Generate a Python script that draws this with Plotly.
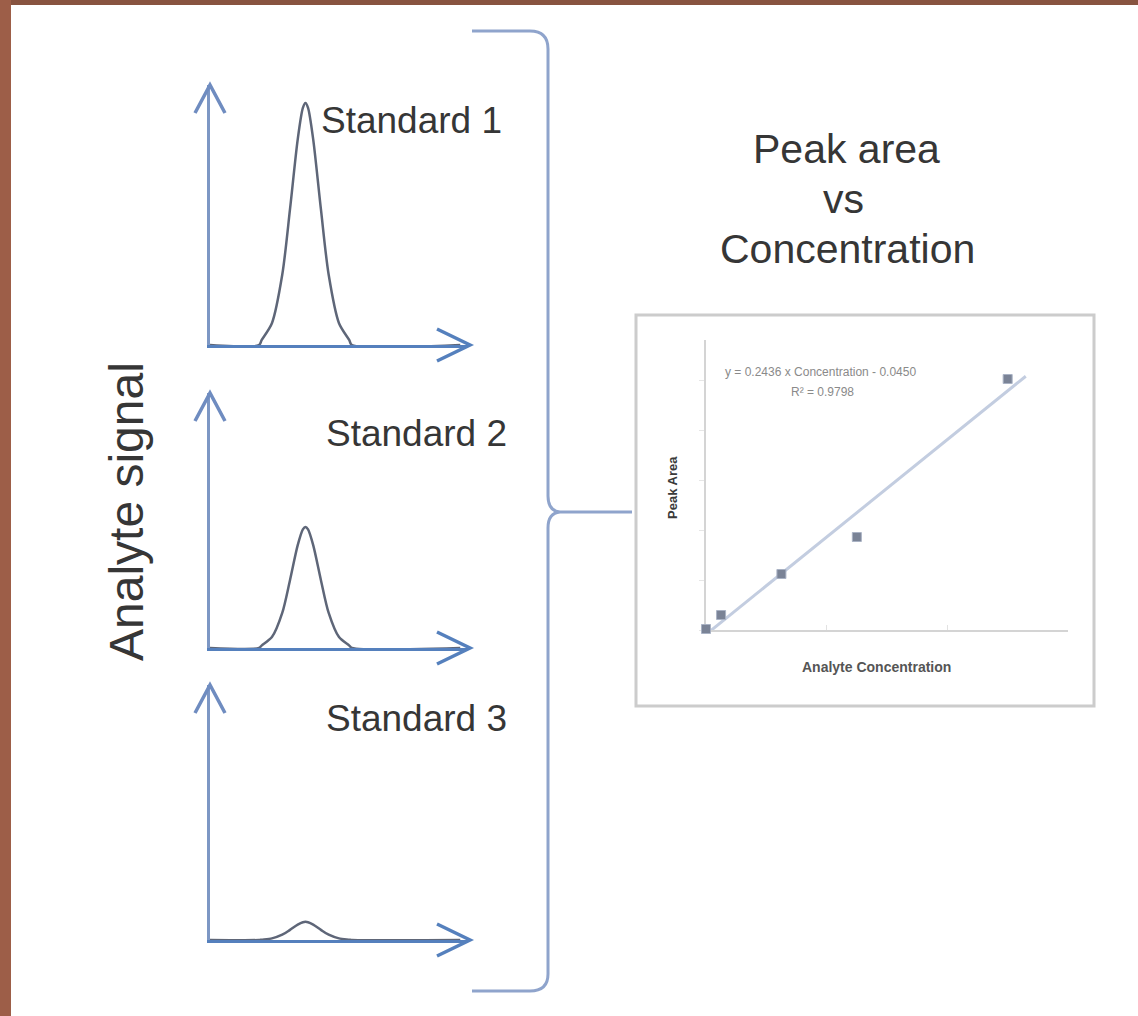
import numpy as np
import plotly.graph_objects as go

W, H = 1138, 1016

# ---------------- data ----------------
standards = ["Standard 1", "Standard 2", "Standard 3"]
peak_heights = [1.0, 0.5, 0.075]          # relative analyte signal of each standard
# shared chromatographic peak profile (retention time, relative signal)
profile_time = [0.0, 1.9, 2.0, 2.4, 2.8, 3.1, 3.4, 3.6, 3.7, 3.8, 4.0, 4.3, 4.6, 5.0, 5.4, 5.5, 9.7]
profile_shape = [0.0, 0.0, 0.02, 0.09, 0.29, 0.56, 0.85, 0.98, 1.0, 0.98, 0.85, 0.56, 0.29, 0.09, 0.02, 0.0, 0.0]

concentration = [0.0, 0.5, 2.5, 5.0, 10.0]
peak_area = [0.01, 0.15, 0.56, 0.93, 2.51]

# ---------------- helpers ----------------
def px(x):
    return x / W

def py(y):
    return 1 - y / H

def pt(x, y):
    return f"{px(x):.5f},{py(y):.5f}"

AXIS_BLUE = "#5580bd"
PEAK_COL = "#5e6678"
TEXT_COL = "#363636"
FONT = "Liberation Sans, Arial, sans-serif"

fig = go.Figure()
shapes = []
annotations = []

# background panel
shapes.append(dict(type="rect", xref="paper", yref="paper", x0=0, x1=px(11), y0=0, y1=1,
                   fillcolor="#9d5e48", line_width=0, layer="below"))
shapes.append(dict(type="rect", xref="paper", yref="paper", x0=px(11), x1=1, y0=py(1016), y1=py(5),
                   fillcolor="white", line_width=0, layer="below"))

# chromatogram panels: (baseline px, top tip px)
panels = [(345, 85), (648, 393), (940, 685)]
label_pos = [(411, 120), (416, 433), (416, 718)]
PX_PER_UNIT = 242.0
X0, X1 = 210, 468

for i, (name, h) in enumerate(zip(standards, peak_heights)):
    base, top = panels[i]
    xa = f"xaxis{i + 1}" if i else "xaxis"
    ya = f"yaxis{i + 1}" if i else "yaxis"
    xr = f"x{i + 1}" if i else "x"
    yr = f"y{i + 1}" if i else "y"
    ymax = (base - top) / PX_PER_UNIT
    fig.add_trace(go.Scatter(
        x=profile_time, y=[v * h for v in profile_shape],
        mode="lines", line=dict(color=PEAK_COL, width=2.5, shape="spline", smoothing=0.8),
        xaxis=xr, yaxis=yr, showlegend=False, hoverinfo="skip", cliponaxis=False))
    fig.layout[xa] = dict(domain=[px(X0), px(X1)], range=[0, 10], anchor=yr,
                          showline=True, linecolor=AXIS_BLUE, linewidth=3,
                          showgrid=False, zeroline=False, showticklabels=False, ticks="",
                          layer="below traces")
    fig.layout[ya] = dict(domain=[py(base), py(top)], range=[0, ymax], anchor=xr,
                          showline=True, linecolor="#7d97c4", linewidth=3,
                          showgrid=False, zeroline=False, showticklabels=False, ticks="",
                          layer="below traces")
    # arrow heads (open chevrons)
    shapes.append(dict(type="path", xref="paper", yref="paper",
                       path=f"M{pt(437, base - 16)} L{pt(470, base)} L{pt(437, base + 16)}",
                       line=dict(color=AXIS_BLUE, width=3.5)))
    shapes.append(dict(type="path", xref="paper", yref="paper",
                       path=f"M{pt(195, top + 28)} L{pt(X0, top)} L{pt(225, top + 28)}",
                       line=dict(color="#6f8cc0", width=3.5)))
    lx, ly = label_pos[i]
    annotations.append(dict(x=px(lx), y=py(ly), xref="paper", yref="paper", text=name,
                            showarrow=False, xanchor="center", yanchor="middle",
                            font=dict(family=FONT, size=37, color=TEXT_COL)))

annotations.append(dict(x=px(126), y=py(512), xref="paper", yref="paper", text="Analyte signal",
                        textangle=-90, showarrow=False, xanchor="center", yanchor="middle",
                        font=dict(family=FONT, size=48, color=TEXT_COL)))

# curly brace
brace = (f"M{pt(472, 31)} L{pt(530, 31)} Q{pt(548, 31)} {pt(548, 49)} L{pt(548, 496)} "
         f"Q{pt(548, 511)} {pt(560, 512)} L{pt(632, 512)} "
         f"M{pt(560, 512)} Q{pt(548, 513)} {pt(548, 528)} L{pt(548, 974)} "
         f"Q{pt(548, 991)} {pt(530, 991)} L{pt(472, 991)}")
shapes.append(dict(type="path", xref="paper", yref="paper", path=brace,
                   line=dict(color="#8fa4cc", width=3)))

# heading
for txt, (hx, hy) in zip(["Peak area", "vs", "Concentration"], [(846, 149), (843, 199), (847, 249)]):
    annotations.append(dict(x=px(hx), y=py(hy), xref="paper", yref="paper", text=txt,
                            showarrow=False, xanchor="center", yanchor="middle",
                            font=dict(family=FONT, size=41, color=TEXT_COL)))

# calibration panel frame
shapes.append(dict(type="rect", xref="paper", yref="paper", x0=px(636), x1=px(1094),
                   y0=py(706), y1=py(315), line=dict(color="#cccccc", width=3), fillcolor="white",
                   layer="below"))

slope, intercept = np.polyfit(concentration, peak_area, 1)
pred = np.polyval([slope, intercept], concentration)
ss_res = float(np.sum((np.array(peak_area) - pred) ** 2))
ss_tot = float(np.sum((np.array(peak_area) - np.mean(peak_area)) ** 2))
r2 = 1 - ss_res / ss_tot
fit_x = [0.0, 10.6]
fit_y = [slope * v + intercept for v in fit_x]

fig.add_trace(go.Scatter(x=fit_x, y=fit_y, mode="lines", line=dict(color="#c3cde0", width=3),
                         xaxis="x4", yaxis="y4", showlegend=False, hoverinfo="skip", cliponaxis=False))
fig.add_trace(go.Scatter(x=concentration, y=peak_area, mode="markers",
                         marker=dict(symbol="square", size=9, color="#7a8396",
                                     line=dict(color="#a9b2c4", width=1)),
                         xaxis="x4", yaxis="y4", showlegend=False, cliponaxis=False))
fig.layout["xaxis4"] = dict(domain=[px(706), px(1068)], range=[0, 12], anchor="y4",
                            showline=True, linecolor="#d4d4d4", linewidth=2, showgrid=False,
                            zeroline=False, showticklabels=False, ticks="inside", ticklen=5,
                            tickcolor="#e2e2e2", dtick=4, layer="below traces")
fig.layout["yaxis4"] = dict(domain=[py(630), py(340)], range=[0, 2.9], anchor="x4",
                            showline=True, linecolor="#d4d4d4", linewidth=2, showgrid=False,
                            zeroline=False, showticklabels=False, ticks="outside", ticklen=5,
                            tickcolor="#e6e6e6", dtick=0.5, layer="below traces")

sign = "+" if intercept >= 0 else "-"
annotations.append(dict(x=px(820), y=py(372), xref="paper", yref="paper", xanchor="center", yanchor="middle",
                        text=f"y = {slope:.4f} x Concentration {sign} {abs(intercept):.4f}",
                        showarrow=False, font=dict(family=FONT, size=12, color="#8a8a8a")))
annotations.append(dict(x=px(822), y=py(392), xref="paper", yref="paper", xanchor="center", yanchor="middle",
                        text=f"R² = {r2:.4f}",
                        showarrow=False, font=dict(family=FONT, size=12, color="#8a8a8a")))
annotations.append(dict(x=px(876), y=py(667), xref="paper", yref="paper", xanchor="center", yanchor="middle",
                        text="<b>Analyte Concentration</b>",
                        showarrow=False, font=dict(family=FONT, size=14, color="#555555")))
annotations.append(dict(x=px(672), y=py(488), xref="paper", yref="paper", xanchor="center", yanchor="middle",
                        text="<b>Peak Area</b>", textangle=-90, showarrow=False,
                        font=dict(family=FONT, size=13, color="#3a3a3a")))

fig.update_layout(width=W, height=H, margin=dict(l=0, r=0, t=0, b=0),
                  paper_bgcolor="#885440", plot_bgcolor="rgba(0,0,0,0)",
                  shapes=shapes, annotations=annotations, showlegend=False)

fig.write_html("out.html", config={"displayModeBar": False},
               post_script="document.body.style.margin='0';")
